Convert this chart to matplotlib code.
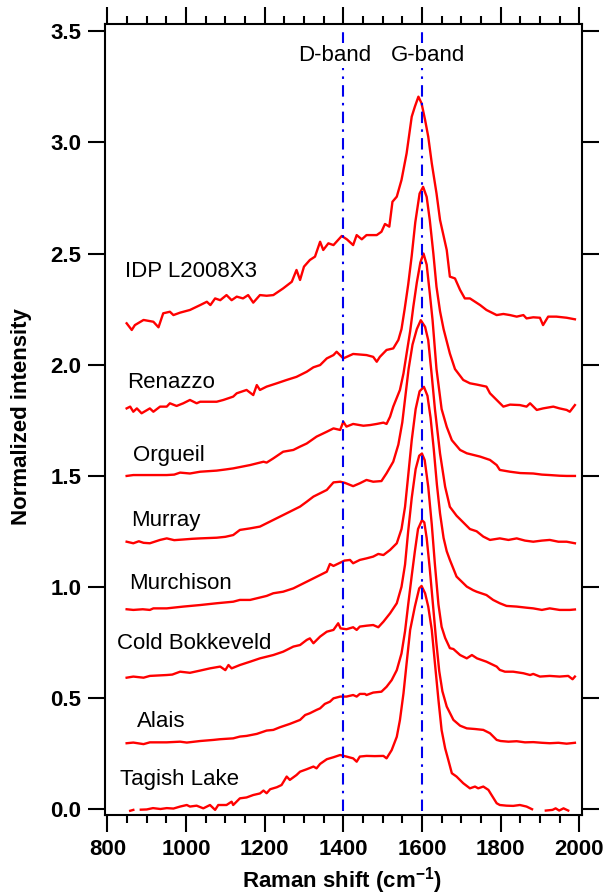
import numpy as np
import matplotlib
matplotlib.use("Agg")
from matplotlib import pyplot as plt
from matplotlib.ticker import MultipleLocator

nan = np.nan

# spectra (Raman shift in cm-1, offset normalized intensity)
tagish_x = [858, 866, 875, 885, 900, 916, 935, 951, 968, 985, 1002, 1010, 1027, 1044, 1061, 1074,
            1082, 1103, 1116, 1120, 1137, 1154, 1171, 1188, 1197, 1205, 1214, 1231, 1243, 1256,
            1264, 1281, 1290, 1307, 1324, 1332, 1341, 1358, 1375, 1392, 1408, 1425, 1434, 1442,
            1459, 1480, 1502, 1510, 1523, 1536, 1544, 1553, 1561, 1570, 1582, 1593, 1599, 1608,
            1616, 1625, 1633, 1642, 1650, 1659, 1667, 1676, 1688, 1705, 1722, 1735, 1743, 1756,
            1769, 1777, 1790, 1798, 1815, 1832, 1849, 1866, 1880, 1893, 1905, 1915, 1932, 1940,
            1949, 1960, 1972, 1981, 1989]
tagish_y = [-0.008, -0.004, nan, -0.003, -0.002, 0.004, 0.000, 0.004, 0.002, 0.011, 0.018, 0.011,
            0.015, 0.003, 0.018, -0.004, 0.018, 0.018, 0.033, 0.018, 0.048, 0.052, 0.063, 0.070,
            0.083, 0.071, 0.089, 0.098, 0.108, 0.146, 0.131, 0.153, 0.168, 0.179, 0.191, 0.183,
            0.203, 0.224, 0.233, 0.243, 0.236, 0.228, 0.213, 0.236, 0.239, 0.238, 0.239, 0.228,
            0.265, 0.325, 0.40, 0.52, 0.656, 0.806, 0.911, 0.993, 1.004, 0.971, 0.911, 0.806,
            0.656, 0.49, 0.355, 0.273, 0.221, 0.161, 0.146, 0.116, 0.093, 0.101, 0.093, 0.101,
            0.086, 0.063, 0.026, 0.018, 0.015, 0.014, 0.018, 0.011, -0.001, nan, nan, -0.007,
            -0.004, 0.003, -0.007, 0.003, -0.007, nan, -0.008]

alais_x = [849, 866, 892, 908, 951, 985, 1002, 1036, 1070, 1086, 1120, 1137, 1154, 1180, 1205,
           1222, 1239, 1264, 1290, 1303, 1315, 1332, 1341, 1353, 1366, 1375, 1392, 1408, 1425,
           1434, 1442, 1455, 1459, 1476, 1497, 1510, 1523, 1536, 1548, 1557, 1565, 1574, 1582,
           1590, 1600, 1606, 1612, 1620, 1628, 1636, 1644, 1652, 1663, 1680, 1697, 1714, 1735,
           1756, 1773, 1790, 1800, 1820, 1841, 1862, 1883, 1905, 1925, 1947, 1968, 1989]
alais_y = [0.296, 0.299, 0.292, 0.300, 0.300, 0.303, 0.299, 0.306, 0.311, 0.314, 0.318, 0.326,
           0.329, 0.338, 0.353, 0.356, 0.368, 0.383, 0.401, 0.423, 0.431, 0.446, 0.453, 0.473,
           0.483, 0.498, 0.506, 0.506, 0.513, 0.506, 0.518, 0.518, 0.513, 0.524, 0.528, 0.55,
           0.58, 0.625, 0.70, 0.80, 0.92, 1.05, 1.16, 1.26, 1.30, 1.29, 1.22, 1.08, 0.92, 0.76,
           0.62, 0.53, 0.461, 0.401, 0.375, 0.363, 0.360, 0.356, 0.341, 0.311, 0.306, 0.303,
           0.305, 0.300, 0.301, 0.298, 0.296, 0.298, 0.294, 0.298]

cold_x = [849, 866, 892, 908, 951, 965, 985, 1010, 1036, 1061, 1087, 1100, 1108, 1116, 1137,
          1163, 1188, 1222, 1247, 1273, 1290, 1307, 1315, 1324, 1341, 1358, 1375, 1387, 1393,
          1408, 1425, 1434, 1442, 1459, 1476, 1489, 1502, 1519, 1536, 1548, 1557, 1565, 1574,
          1584, 1593, 1600, 1607, 1616, 1625, 1633, 1642, 1650, 1659, 1671, 1680, 1697, 1714,
          1727, 1740, 1764, 1790, 1798, 1811, 1832, 1858, 1875, 1883, 1900, 1925, 1950, 1972,
          1983, 1989]
cold_y = [0.591, 0.596, 0.591, 0.599, 0.603, 0.605, 0.618, 0.613, 0.623, 0.633, 0.641, 0.625,
          0.648, 0.633, 0.648, 0.663, 0.678, 0.693, 0.708, 0.731, 0.738, 0.761, 0.768, 0.746,
          0.776, 0.798, 0.806, 0.836, 0.813, 0.809, 0.818, 0.806, 0.821, 0.825, 0.828, 0.818,
          0.843, 0.881, 0.926, 1.00, 1.10, 1.25, 1.40, 1.53, 1.59, 1.60, 1.57, 1.45, 1.28, 1.10,
          0.92, 0.82, 0.77, 0.724, 0.72, 0.693, 0.678, 0.693, 0.678, 0.663, 0.641, 0.626, 0.618,
          0.618, 0.611, 0.603, 0.608, 0.596, 0.599, 0.596, 0.599, 0.584, 0.596]

murchison_x = [849, 866, 890, 908, 917, 951, 993, 1036, 1078, 1120, 1137, 1163, 1205, 1222, 1247,
               1273, 1290, 1307, 1324, 1341, 1358, 1366, 1375, 1403, 1417, 1425, 1442, 1459, 1476,
               1489, 1502, 1519, 1536, 1548, 1557, 1565, 1574, 1584, 1594, 1605, 1614, 1622, 1630,
               1638, 1646, 1655, 1663, 1671, 1688, 1714, 1730, 1739, 1764, 1781, 1798, 1815, 1841,
               1866, 1883, 1905, 1925, 1950, 1976, 1989]
murchison_y = [0.899, 0.896, 0.899, 0.896, 0.903, 0.903, 0.911, 0.918, 0.926, 0.933, 0.941, 0.941,
               0.959, 0.971, 0.978, 0.993, 1.008, 1.023, 1.038, 1.053, 1.068, 1.103, 1.094, 1.118,
               1.121, 1.106, 1.121, 1.128, 1.136, 1.148, 1.143, 1.166, 1.196, 1.26, 1.36, 1.50,
               1.66, 1.80, 1.88, 1.90, 1.86, 1.76, 1.62, 1.46, 1.33, 1.22, 1.16, 1.121, 1.046,
               1.001, 0.985, 0.978, 0.963, 0.941, 0.926, 0.914, 0.911, 0.906, 0.903, 0.896, 0.903,
               0.896, 0.896, 0.898]

murray_x = [849, 866, 880, 892, 908, 934, 951, 970, 993, 1015, 1036, 1078, 1100, 1120, 1137, 1163,
            1188, 1205, 1222, 1247, 1264, 1290, 1307, 1324, 1341, 1358, 1375, 1392, 1404, 1425,
            1442, 1459, 1476, 1497, 1510, 1527, 1540, 1550, 1558, 1566, 1576, 1587, 1597, 1608,
            1616, 1625, 1633, 1646, 1659, 1671, 1688, 1705, 1722, 1739, 1756, 1773, 1798, 1820,
            1841, 1862, 1883, 1905, 1925, 1947, 1968, 1989]
murray_y = [1.203, 1.196, 1.205, 1.198, 1.196, 1.211, 1.218, 1.210, 1.213, 1.216, 1.218, 1.221,
            1.225, 1.233, 1.256, 1.263, 1.271, 1.286, 1.301, 1.323, 1.338, 1.361, 1.383, 1.406,
            1.421, 1.436, 1.470, 1.473, 1.468, 1.453, 1.466, 1.481, 1.473, 1.476, 1.511, 1.563,
            1.64, 1.74, 1.86, 1.98, 2.09, 2.16, 2.20, 2.17, 2.11, 1.95, 1.80, 1.60, 1.45, 1.36,
            1.32, 1.29, 1.26, 1.25, 1.226, 1.211, 1.218, 1.211, 1.218, 1.208, 1.203, 1.208,
            1.211, 1.203, 1.203, 1.196]

orgueil_x = [849, 866, 908, 951, 970, 985, 1010, 1036, 1078, 1100, 1120, 1163, 1197, 1205, 1222,
             1247, 1273, 1290, 1307, 1332, 1358, 1375, 1392, 1400, 1408, 1425, 1451, 1468, 1485,
             1502, 1510, 1519, 1527, 1544, 1553, 1561, 1570, 1578, 1587, 1596, 1604, 1612, 1620,
             1627, 1637, 1650, 1663, 1676, 1697, 1714, 1748, 1773, 1790, 1798, 1824, 1850, 1883,
             1905, 1925, 1950, 1968, 1989]
orgueil_y = [1.499, 1.503, 1.503, 1.503, 1.505, 1.514, 1.510, 1.518, 1.523, 1.528, 1.533, 1.548,
             1.563, 1.559, 1.578, 1.608, 1.616, 1.631, 1.645, 1.676, 1.698, 1.713, 1.706, 1.743,
             1.721, 1.733, 1.725, 1.728, 1.733, 1.739, 1.733, 1.766, 1.811, 1.886, 1.96, 2.05,
             2.15, 2.26, 2.37, 2.46, 2.50, 2.45, 2.32, 2.20, 1.98, 1.80, 1.72, 1.66, 1.616, 1.601,
             1.586, 1.571, 1.548, 1.526, 1.518, 1.512, 1.510, 1.505, 1.503, 1.500, 1.499, 1.499]

renazzo_x = [849, 858, 866, 875, 887, 908, 917, 934, 951, 959, 976, 993, 1010, 1027, 1036, 1078,
             1095, 1120, 1129, 1154, 1171, 1180, 1188, 1205, 1231, 1256, 1281, 1307, 1324, 1341,
             1358, 1375, 1383, 1400, 1425, 1459, 1476, 1485, 1493, 1510, 1527, 1540, 1548, 1556,
             1565, 1574, 1583, 1594, 1603, 1612, 1620, 1629, 1637, 1646, 1655, 1671, 1684, 1705,
             1722, 1740, 1764, 1773, 1790, 1807, 1824, 1849, 1866, 1875, 1892, 1908, 1934, 1950,
             1968, 1976, 1989]
renazzo_y = [1.803, 1.811, 1.788, 1.803, 1.781, 1.803, 1.788, 1.811, 1.811, 1.826, 1.814, 1.826,
             1.841, 1.826, 1.833, 1.833, 1.841, 1.856, 1.871, 1.886, 1.863, 1.908, 1.886, 1.901,
             1.916, 1.931, 1.945, 1.968, 1.988, 1.998, 2.028, 2.043, 2.058, 2.028, 2.048, 2.043,
             2.035, 2.013, 2.035, 2.066, 2.073, 2.111, 2.16, 2.25, 2.36, 2.49, 2.64, 2.77, 2.80,
             2.755, 2.65, 2.50, 2.35, 2.24, 2.16, 2.05, 1.98, 1.931, 1.916, 1.910, 1.901, 1.871,
             1.841, 1.811, 1.820, 1.818, 1.811, 1.826, 1.796, 1.803, 1.811, 1.803, 1.796, 1.788,
             1.818]

idp_x = [849, 862, 870, 892, 917, 930, 942, 959, 968, 985, 1010, 1036, 1053, 1062, 1074, 1087,
         1103, 1116, 1129, 1145, 1158, 1171, 1188, 1205, 1222, 1247, 1269, 1281, 1290, 1300, 1315,
         1328, 1341, 1349, 1362, 1375, 1396, 1409, 1425, 1434, 1447, 1459, 1485, 1497, 1506, 1517,
         1525, 1536, 1548, 1561, 1574, 1582, 1591, 1599, 1608, 1616, 1625, 1637, 1646, 1663, 1671,
         1684, 1697, 1709, 1722, 1735, 1748, 1764, 1790, 1807, 1824, 1841, 1858, 1866, 1883, 1900,
         1908, 1921, 1942, 1968, 1989]
idp_y = [2.186, 2.156, 2.178, 2.201, 2.193, 2.168, 2.231, 2.238, 2.223, 2.234, 2.246, 2.268, 2.283,
         2.268, 2.298, 2.290, 2.313, 2.290, 2.306, 2.298, 2.313, 2.279, 2.313, 2.310, 2.313, 2.343,
         2.373, 2.426, 2.381, 2.441, 2.471, 2.486, 2.553, 2.516, 2.546, 2.538, 2.579, 2.564, 2.538,
         2.583, 2.564, 2.583, 2.583, 2.598, 2.633, 2.621, 2.733, 2.756, 2.831, 2.951, 3.116, 3.161,
         3.206, 3.176, 3.101, 3.026, 2.906, 2.771, 2.651, 2.516, 2.396, 2.388, 2.336, 2.298, 2.298,
         2.283, 2.268, 2.246, 2.223, 2.228, 2.223, 2.216, 2.223, 2.208, 2.213, 2.211, 2.178, 2.216,
         2.216, 2.211, 2.204]

sample_names = ["Tagish Lake", "Alais", "Cold Bokkeveld", "Murchison", "Murray", "Orgueil",
                "Renazzo", "IDP L2008X3"]
label_x = [832, 876, 825, 855, 860, 865, 850, 845]
label_y = [0.135, 0.396, 0.743, 1.013, 1.30, 1.593, 1.92, 2.417]

band_names = ["D-band", "G-band"]
band_pos = [1400, 1600]
band_label_x = [1379, 1616]


def plot_spectra():
    plt.rcParams["font.family"] = ["Liberation Sans", "DejaVu Sans"]
    plt.rcParams["mathtext.fontset"] = "custom"
    plt.rcParams["mathtext.bf"] = "Liberation Sans:bold"
    plt.rcParams["mathtext.rm"] = "Liberation Sans:bold"

    fig = plt.figure(figsize=(6.07, 8.96), dpi=100)
    ax = fig.add_axes([0.173, 0.0904, 0.7858, 0.8828])

    spectra = [(tagish_x, tagish_y), (alais_x, alais_y), (cold_x, cold_y),
               (murchison_x, murchison_y), (murray_x, murray_y), (orgueil_x, orgueil_y),
               (renazzo_x, renazzo_y), (idp_x, idp_y)]
    for xs, ys in spectra:
        ax.plot(xs, ys, color="#ff0000", lw=1.7, solid_joinstyle="round")

    # band markers
    for pos in band_pos:
        ax.plot([pos, pos], [-0.01, 3.515], color="#0000ee", lw=1.5,
                dashes=(5.5, 3.0, 1.2, 3.0))
    for name, bx in zip(band_names, band_label_x):
        ax.text(bx, 3.393, name, ha="center", va="center", fontsize=16,
                bbox=dict(facecolor="white", edgecolor="none", pad=1.5))

    for name, lx, ly in zip(sample_names, label_x, label_y):
        ax.text(lx, ly, name, ha="left", va="center", fontsize=16)

    ax.set_xlim(794, 2007)
    ax.set_ylim(-0.027, 3.533)
    ax.xaxis.set_major_locator(MultipleLocator(200))
    ax.xaxis.set_minor_locator(MultipleLocator(50))
    ax.yaxis.set_major_locator(MultipleLocator(0.5))
    ax.tick_params(which="both", direction="out", width=1.5, top=True, right=True,
                   labelsize=16)
    ax.tick_params(which="major", length=12)
    ax.tick_params(which="minor", length=6)
    ax.tick_params(axis="x", pad=5)
    ax.tick_params(axis="y", pad=5)
    for lab in ax.get_xticklabels() + ax.get_yticklabels():
        lab.set_fontweight("bold")
    for sp in ax.spines.values():
        sp.set_linewidth(1.5)

    fig.text(342 / 607, 1 - 881 / 896, r"Raman shift (cm$^{\bf{-1}}$)", ha="center",
             va="center", fontsize=16, fontweight="bold")
    fig.text(22 / 607, 1 - 417 / 896, "Normalized intensity", ha="center", va="center",
             rotation=90, fontsize=16, fontweight="bold")

    fig.savefig("out.png", dpi=100)


plot_spectra()
